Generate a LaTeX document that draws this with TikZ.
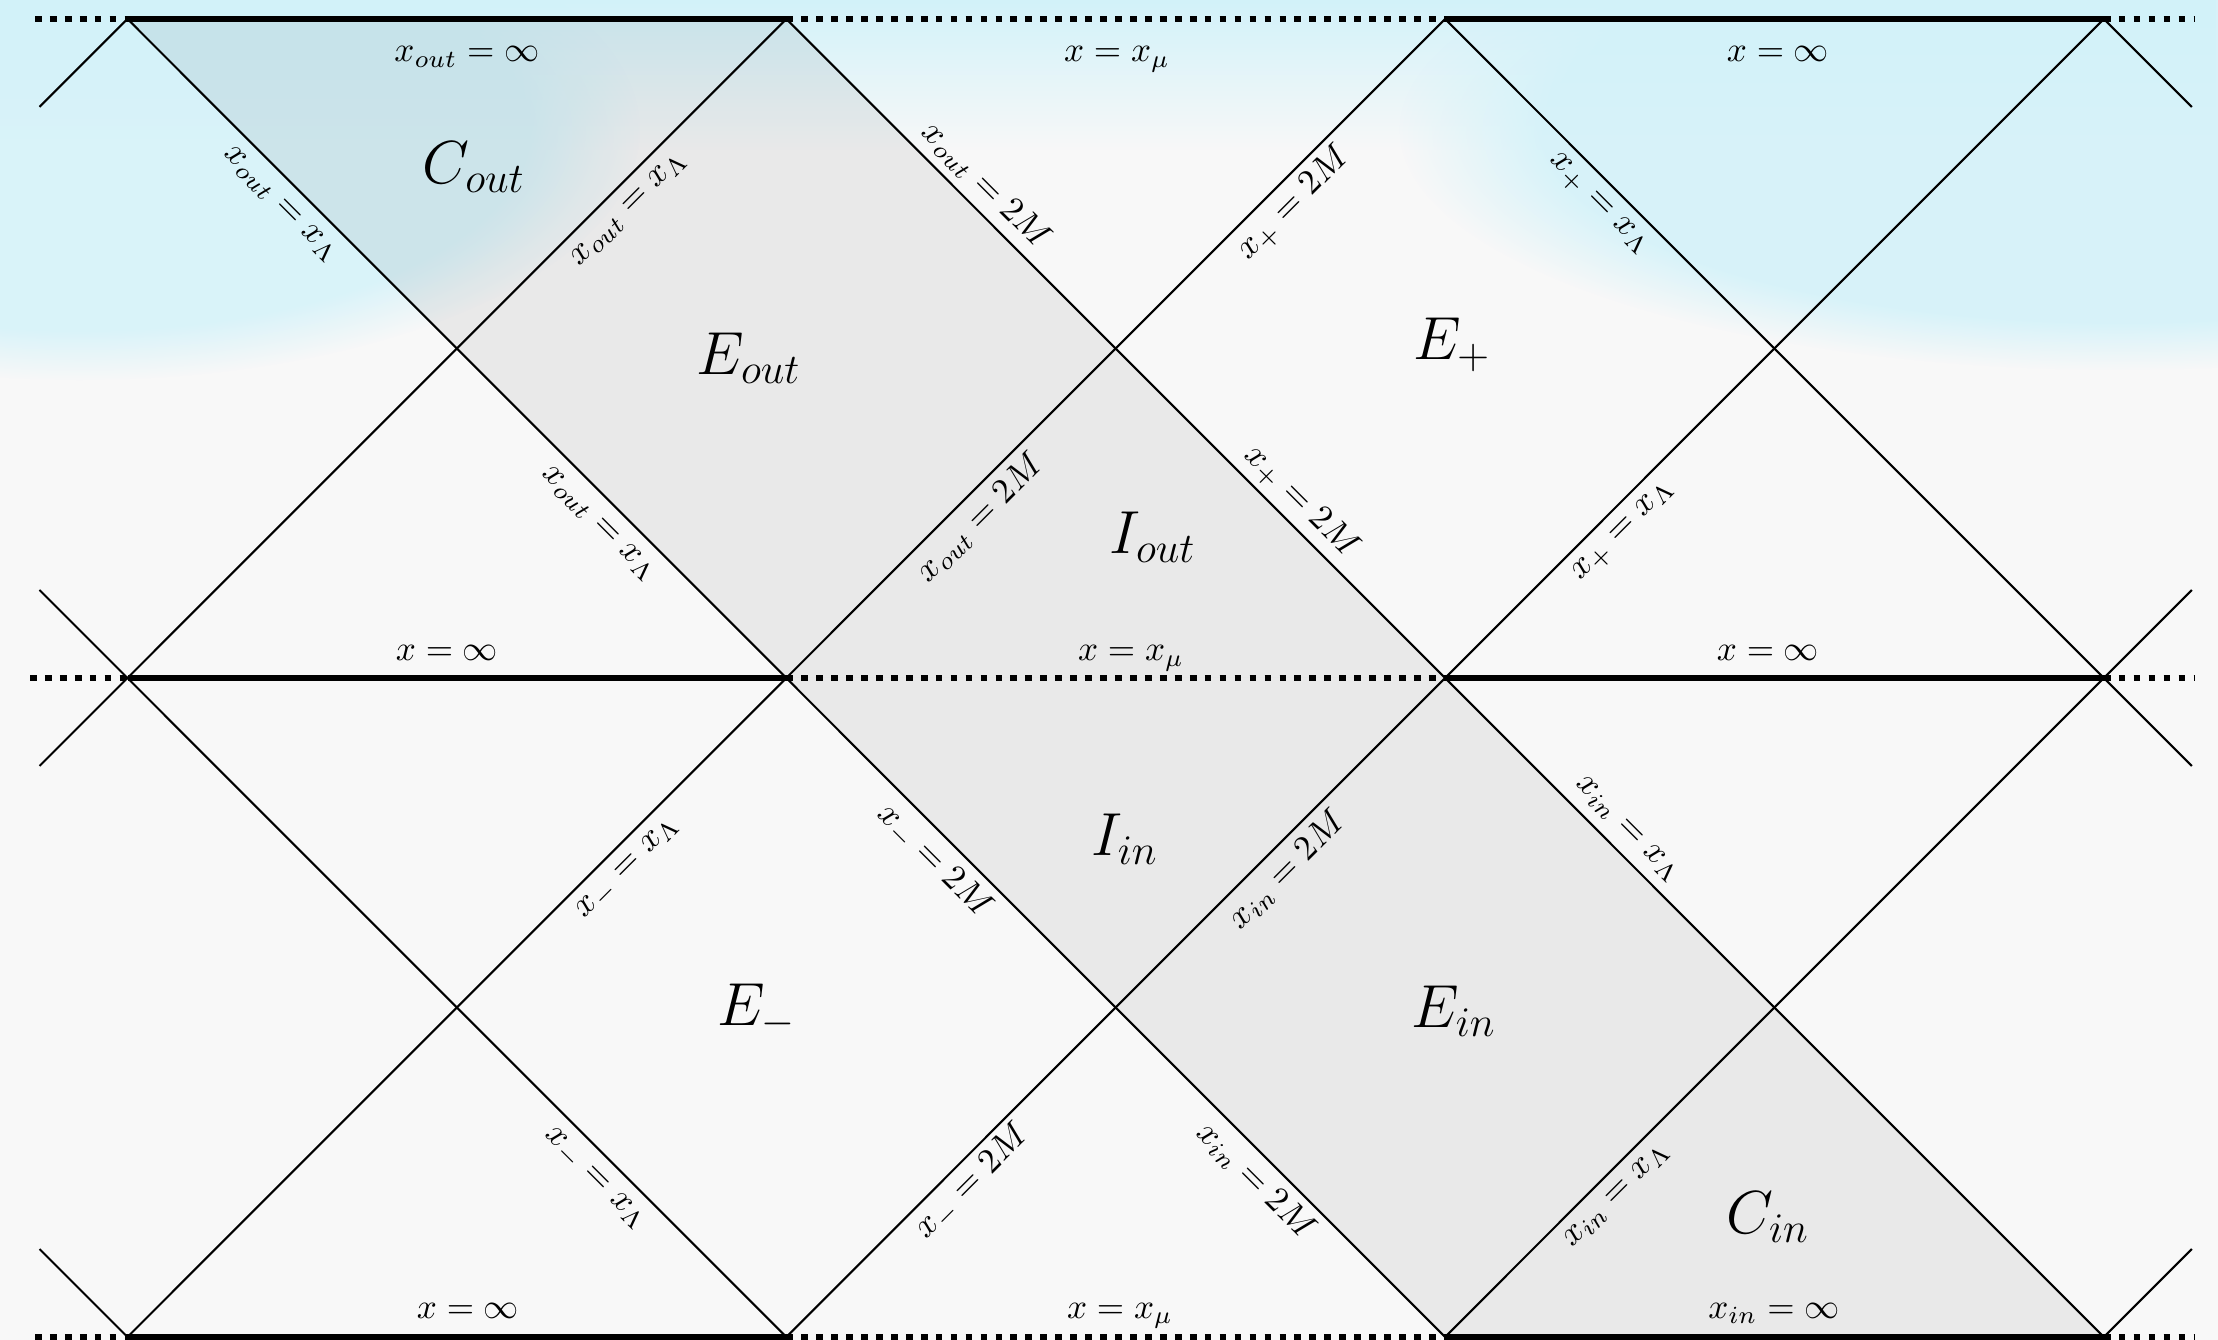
\documentclass[tikz,border=0pt]{standalone}
\usetikzlibrary{fadings}
\definecolor{bgc}{RGB}{248,248,248}
\definecolor{sky}{RGB}{210,242,250}
\tikzfading[name=topfade, top color=transparent!0, bottom color=transparent!100]
\tikzset{
  grid/.style={line width=0.6pt, black},
  solidbound/.style={line width=1.6pt, black},
  dotbound/.style={line width=1.9pt, black, dash pattern=on 1.9pt off 2.35pt},
  region/.style={fill=black, fill opacity=0.058},
  lbl/.style={font=\fontsize{10}{12}\selectfont, inner sep=0pt},
  big/.style={font=\fontsize{17}{20}\selectfont, inner sep=0pt},
}
\begin{document}
\begin{tikzpicture}[x=0.01cm,y=-0.01cm]
\useasboundingbox (0,0) rectangle (2218,1340);
% background
\fill[bgc] (0,0) rectangle (2218,1340);
\fill[sky, path fading=topfade] (0,0) rectangle (2218,150);
\fill[sky, fill opacity=0.8, path fading=circle with fuzzy edge 20 percent] (80,130) ellipse [x radius=560, y radius=250];
\fill[sky, fill opacity=0.85, path fading=circle with fuzzy edge 20 percent] (2120,130) ellipse [x radius=720, y radius=240];

% lattice points
\coordinate (T0) at (127.5,19);  \coordinate (T1) at (786.3,19);
\coordinate (T2) at (1445,19);   \coordinate (T3) at (2103.8,19);
\coordinate (M0) at (127.5,678); \coordinate (M1) at (786.3,678);
\coordinate (M2) at (1445,678);  \coordinate (M3) at (2103.8,678);
\coordinate (B0) at (127.5,1337);\coordinate (B1) at (786.3,1337);
\coordinate (B2) at (1445,1337); \coordinate (B3) at (2103.8,1337);
\coordinate (U0) at (456.9,348.5);  \coordinate (U1) at (1115.6,348.5); \coordinate (U2) at (1774.4,348.5);
\coordinate (D0) at (456.9,1007.5); \coordinate (D1) at (1115.6,1007.5); \coordinate (D2) at (1774.4,1007.5);
% stub ends
\coordinate (sTL) at (39.5,107);    \coordinate (sTR) at (2191.8,107);
\coordinate (sML1) at (39.5,590);   \coordinate (sML2) at (39.5,766);
\coordinate (sMR1) at (2191.8,590); \coordinate (sMR2) at (2191.8,766);
\coordinate (sBL) at (39.5,1249);   \coordinate (sBR) at (2191.8,1249);
% dotted ends
\coordinate (eTL) at (35,19);   \coordinate (eTR) at (2195,19);
\coordinate (eML) at (30,678);  \coordinate (eMR) at (2195,678);
\coordinate (eBL) at (35,1337); \coordinate (eBR) at (2195,1337);

% shaded regions
\fill[region] (T0)--(T1)--(U0)--cycle;
\fill[region] (U0)--(T1)--(U1)--(M1)--cycle;
\fill[region] (M1)--(U1)--(M2)--cycle;
\fill[region] (M1)--(M2)--(D1)--cycle;
\fill[region] (D1)--(M2)--(D2)--(B2)--cycle;
\fill[region] (B2)--(D2)--(B3)--cycle;

% diagonal lines (down-right)
\draw[grid] (T0)--(B2);
\draw[grid] (T1)--(B3);
\draw[grid] (T2)--(M3)--(sMR2);
\draw[grid] (sML1)--(M0)--(B1);
\draw[grid] (T3)--(sTR);
\draw[grid] (sBL)--(B0);
% diagonal lines (up-right)
\draw[grid] (sML2)--(M0)--(T1);
\draw[grid] (B0)--(T2);
\draw[grid] (B1)--(T3);
\draw[grid] (B2)--(M3)--(sMR1);
\draw[grid] (sTL)--(T0);
\draw[grid] (B3)--(sBR);

% horizontal boundaries
\draw[solidbound] (T0)--(T1); \draw[solidbound] (T2)--(T3);
\draw[solidbound] (M0)--(M1); \draw[solidbound] (M2)--(M3);
\draw[solidbound] (B0)--(B1); \draw[solidbound] (B2)--(B3);
\draw[dotbound] (eTL)--(T0); \draw[dotbound] (T1)--(T2); \draw[dotbound] (T3)--(eTR);
\draw[dotbound] (eML)--(M0); \draw[dotbound] (M1)--(M2); \draw[dotbound] (M3)--(eMR);
\draw[dotbound] (eBL)--(B0); \draw[dotbound] (B1)--(B2); \draw[dotbound] (B3)--(eBR);

% horizontal labels
\node[lbl, anchor=base] (h1) at (467,62)   {$x_{out}=\infty$};
\node[lbl, anchor=base] (h2) at (1117,62)  {$x=x_\mu$};
\node[lbl, anchor=base] (h3) at (1778,62)  {$x=\infty$};
\node[lbl, anchor=base] (h4) at (447,661)  {$x=\infty$};
\node[lbl, anchor=base] (h5) at (1131,661) {$x=x_\mu$};
\node[lbl, anchor=base] (h6) at (1768,661) {$x=\infty$};
\node[lbl, anchor=base] (h7) at (468,1318) {$x=\infty$};
\node[lbl, anchor=base] (h8) at (1120,1318){$x=x_\mu$};
\node[lbl, anchor=base] (h9) at (1774,1318){$x_{in}=\infty$};

% diagonal labels
\node[lbl, rotate=-45] (d1)  at (280,204.5)  {$x_{out}=x_\Lambda$};
\node[lbl, rotate=45]  (d2)  at (629,209.5)  {$x_{out}=x_\Lambda$};
\node[lbl, rotate=-45] (d3)  at (986,185.7)  {$x_{out}=2M$};
\node[lbl, rotate=45]  (d4)  at (1294,203.5) {$x_{+}=2M$};
\node[lbl, rotate=-45] (d5)  at (1598,205)   {$x_{+}=x_\Lambda$};
\node[lbl, rotate=-45] (d6)  at (598,524)    {$x_{out}=x_\Lambda$};
\node[lbl, rotate=45]  (d7)  at (980,518)    {$x_{out}=2M$};
\node[lbl, rotate=-45] (d8)  at (1301,502)   {$x_{+}=2M$};
\node[lbl, rotate=45]  (d9)  at (1624,532)   {$x_{+}=x_\Lambda$};
\node[lbl, rotate=45]  (d10) at (629,869)    {$x_{-}=x_\Lambda$};
\node[lbl, rotate=-45] (d11) at (934,862)    {$x_{-}=2M$};
\node[lbl, rotate=45]  (d12) at (1287,870)   {$x_{in}=2M$};
\node[lbl, rotate=-45] (d13) at (1627,830)   {$x_{in}=x_\Lambda$};
\node[lbl, rotate=-45] (d14) at (594,1180)   {$x_{-}=x_\Lambda$};
\node[lbl, rotate=45]  (d15) at (973,1182)   {$x_{-}=2M$};
\node[lbl, rotate=-45] (d16) at (1256,1181)  {$x_{in}=2M$};
\node[lbl, rotate=45]  (d17) at (1617,1196)  {$x_{in}=x_\Lambda$};

% region labels
\node[big] (rCout) at (474,167)  {$C_{out}$};
\node[big] (rEout) at (749,358)  {$E_{out}$};
\node[big] (rEp)   at (1452,345) {$E_{+}$};
\node[big] (rIout) at (1153,537) {$I_{out}$};
\node[big] (rIin)  at (1125,839) {$I_{in}$};
\node[big] (rEm)   at (757,1011) {$E_{-}$};
\node[big] (rEin)  at (1454,1011){$E_{in}$};
\node[big] (rCin)  at (1768,1217){$C_{in}$};
\end{tikzpicture}
\end{document}
